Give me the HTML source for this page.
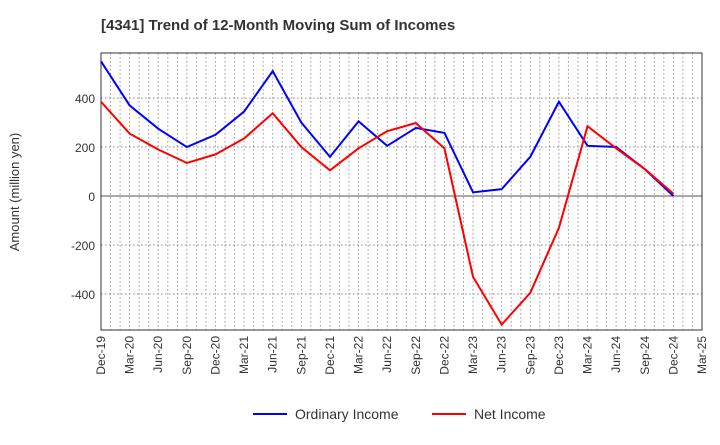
<!DOCTYPE html>
<html><head><meta charset="utf-8"><style>
body{margin:0;background:#fff;font-family:"Liberation Sans",sans-serif;}
</style></head><body>
<svg id="c" width="720" height="440" xmlns="http://www.w3.org/2000/svg">
<text x="101" y="30" font-size="15" font-weight="bold" fill="#333">[4341]  Trend of 12-Month Moving Sum of Incomes</text>
<text transform="translate(19,192) rotate(-90)" text-anchor="middle" font-size="13" fill="#333">Amount (million yen)</text>
<g id="grid"></g><g id="axes"></g><g id="series"></g>
<g>
<line x1="253" y1="414" x2="287" y2="414" stroke="#0000ff" stroke-width="2"/>
<text x="295" y="419" font-size="14" fill="#333">Ordinary Income</text>
<line x1="432" y1="414" x2="466" y2="414" stroke="#ff0000" stroke-width="2"/>
<text x="474" y="419" font-size="14" fill="#333">Net Income</text>
</g>
</svg>
<script>
const categories=["Dec-19","Mar-20","Jun-20","Sep-20","Dec-20","Mar-21","Jun-21","Sep-21","Dec-21","Mar-22","Jun-22","Sep-22","Dec-22","Mar-23","Jun-23","Sep-23","Dec-23","Mar-24","Jun-24","Sep-24","Dec-24","Mar-25"];
const ordinaryIncome=[550,370,275,200,250,345,510,300,160,305,205,278,258,15,28,160,385,205,200,110,0];
const netIncome=[385,255,190,135,170,235,338,200,105,195,265,298,195,-330,-525,-395,-130,285,195,110,10];
const yTicks=[-400,-200,0,200,400];
const L=101,R=702,T=53,B=330,yMax=584,yMin=-547;
const ns="http://www.w3.org/2000/svg";
function xs(i){return L+(R-L)*i/(categories.length-1);}
function ys(v){return T+(yMax-v)/(yMax-yMin)*(B-T);}
function mk(tag,attrs,parent){const e=document.createElementNS(ns,tag);for(const k in attrs)e.setAttribute(k,attrs[k]);document.getElementById(parent).appendChild(e);return e;}
// grid
for(let m=1;m<(categories.length-1)*3;m++){const x=L+(R-L)*m/((categories.length-1)*3);
const g=mk("line",{x1:x,x2:x,y1:T,y2:B,stroke:"#999","stroke-dasharray":"1.5,2.5","stroke-width":1},"grid");

}
yTicks.forEach(v=>{const y=ys(v);
const g=mk("line",{x1:L,x2:R,y1:y,y2:y,stroke:v===0?"#555":"#888","stroke-dasharray":v===0?"":"1.5,2.5","stroke-width":1},"grid");


const t=mk("text",{x:L-6,y:y+5,"text-anchor":"end","font-size":12,fill:"#333"},"axes");t.textContent=v;

});
const fr=mk("rect",{x:L,y:T,width:R-L,height:B-T,fill:"none",stroke:"#333"},"axes");


categories.forEach((c,i)=>{const x=xs(i);
const t=mk("text",{transform:`translate(${x+4},${B+6}) rotate(-90)`,"text-anchor":"end","font-size":12,fill:"#333"},"axes");t.textContent=c;

});
function line(data,color,name){const p=mk("polyline",{points:data.map((v,i)=>xs(i)+","+ys(v)).join(" "),fill:"none",stroke:color,"stroke-width":2},"series");

}
line(ordinaryIncome,"#0000ff","ordinary-income-line");
line(netIncome,"#ff0000","net-income-line");
</script>
</body></html>
